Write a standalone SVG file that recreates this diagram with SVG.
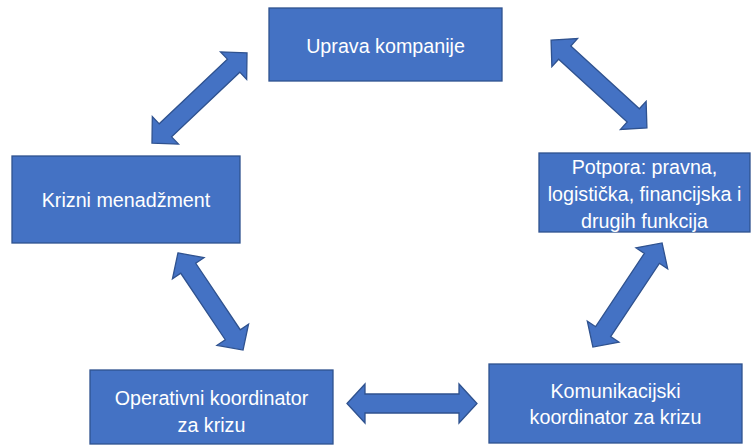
<svg xmlns="http://www.w3.org/2000/svg" width="751" height="446" viewBox="0 0 751 446">
<style>
.box{fill:#4472C4;stroke:#2F528F;stroke-width:1.3}
.lbl{font-family:"Liberation Sans",Arial,sans-serif;font-size:19.7px;fill:#FFFFFF;text-anchor:middle}
.arr{fill:#4472C4;stroke:#2F528F;stroke-width:1.3;stroke-linejoin:miter}
</style>
<rect width="751" height="446" fill="#FFFFFF"/>
<g id="connectors">
<polygon class="arr" transform="translate(199.5,98) rotate(-43.5)" points="-65.5,0 -47,-19 -47,-9 47,-9 47,-19 65.5,0 47,19 47,9 -47,9 -47,19"/>
<polygon class="arr" transform="translate(599,84) rotate(42.5)" points="-65,0 -46.5,-19 -46.5,-9 46.5,-9 46.5,-19 65,0 46.5,19 46.5,9 -46.5,9 -46.5,19"/>
<polygon class="arr" transform="translate(210.5,301.5) rotate(56.2)" points="-58.5,0 -40,-19 -40,-9 40,-9 40,-19 58.5,0 40,19 40,9 -40,9 -40,19"/>
<polygon class="arr" transform="translate(627.5,295) rotate(-56.4)" points="-62.5,0 -44,-19 -44,-9 44,-9 44,-19 62.5,0 44,19 44,9 -44,9 -44,19"/>
<polygon class="arr" transform="translate(412,403.5)" points="-65,0 -47,-19.5 -47,-9.5 47,-9.5 47,-19.5 65,0 47,19.5 47,9.5 -47,9.5 -47,19.5"/>
</g>
<g id="uprava">
<rect class="box" x="269" y="8" width="233" height="73"/>
<text class="lbl" x="385.5" y="53">Uprava kompanije</text>
</g>
<g id="krizni">
<rect class="box" x="12" y="156" width="228" height="87"/>
<text class="lbl" x="126" y="207">Krizni menadžment</text>
</g>
<g id="potpora">
<rect class="box" x="539" y="153" width="211" height="79"/>
<text class="lbl" x="644.5" y="174">Potpora: pravna,</text>
<text class="lbl" x="644.5" y="201">logistička, financijska i</text>
<text class="lbl" x="644.5" y="228">drugih funkcija</text>
</g>
<g id="operativni">
<rect class="box" x="90" y="370" width="243" height="74"/>
<text class="lbl" x="211.5" y="405">Operativni koordinator</text>
<text class="lbl" x="211.5" y="432">za krizu</text>
</g>
<g id="komunikacijski">
<rect class="box" x="489" y="364" width="253" height="79"/>
<text class="lbl" x="615.5" y="398">Komunikacijski</text>
<text class="lbl" x="615.5" y="424">koordinator za krizu</text>
</g>
</svg>
